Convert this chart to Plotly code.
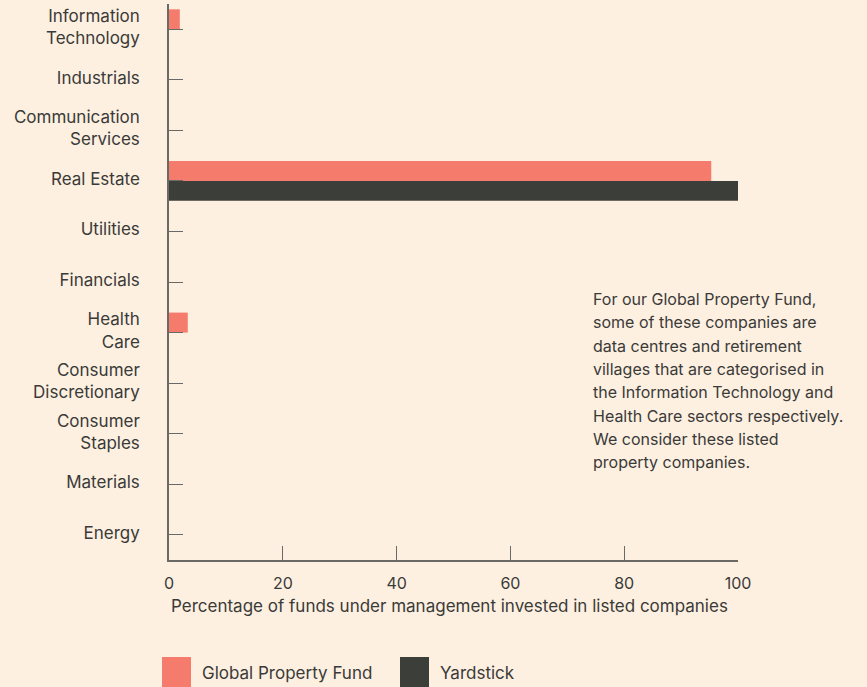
import plotly.graph_objects as go

categories = ["Information<br>Technology", "Industrials", "Communication<br>Services",
              "Real Estate", "Utilities", "Financials", "Health<br>Care",
              "Consumer<br>Discretionary", "Consumer<br>Staples", "Materials", "Energy"]
fund_values = [1.9, 0, 0, 95.3, 0, 0, 3.3, 0, 0, 0, 0]
yardstick_values = [0, 0, 0, 100, 0, 0, 0, 0, 0, 0, 0]
x_ticks = [0, 20, 40, 60, 80, 100]
note_lines = ["For our Global Property Fund,", "some of these companies are",
              "data centres and retirement", "villages that are categorised in",
              "the Information Technology and", "Health Care sectors respectively.",
              "We consider these listed", "property companies."]
legend_labels = ["Global Property Fund", "Yardstick"]

BG = "#FDF0E1"
FUND = "#F57C6D"
YARD = "#3C3E3A"
TEXT = "#3A3A38"
AXIS = "#6B6964"
FONT = "Inter, Roboto, sans-serif"

W_PLOT = 569
H_PLOT = 556

def px_x(px):
    return (px - 169) / W_PLOT

def px_y(py):
    return (560 - py) / H_PLOT

fig = go.Figure()
fig.add_trace(go.Bar(y=categories, x=fund_values, orientation="h", name=legend_labels[0],
                     marker=dict(color=FUND, line=dict(width=0))))
fig.add_trace(go.Bar(y=categories, x=yardstick_values, orientation="h", name=legend_labels[1],
                     marker=dict(color=YARD, line=dict(width=0))))

fig.update_layout(
    width=867, height=687,
    paper_bgcolor=BG, plot_bgcolor=BG,
    margin=dict(l=169, r=129, t=4, b=127),
    barmode="group", bargap=0.21, bargroupgap=0,
    showlegend=False,
    font=dict(family=FONT, color=TEXT, size=17),
)
fig.update_yaxes(autorange="reversed", showline=True, linecolor=AXIS, linewidth=1.5,
                 ticks="inside", ticklen=14, tickcolor=AXIS, tickwidth=1,
                 ticklabelstandoff=24, ticklabelshift=2, showgrid=False, zeroline=False,
                 tickfont=dict(size=17, color=TEXT))
fig.update_xaxes(range=[0, 100], tickvals=x_ticks, showline=True, linecolor=AXIS, linewidth=1.5,
                 ticks="inside", ticklen=14, tickcolor=AXIS, tickwidth=1,
                 showgrid=False, zeroline=False, ticklabelstandoff=8,
                 tickfont=dict(size=16, color=TEXT))

fig.add_annotation(xref="paper", yref="paper", x=0, y=px_y(606), xanchor="left", yanchor="middle",
                   text="Percentage of funds under management invested in listed companies",
                   showarrow=False, font=dict(size=17, color=TEXT))

for i, line in enumerate(note_lines):
    fig.add_annotation(xref="paper", yref="paper", x=px_x(591), y=px_y(299 + 23.3 * i),
                       xanchor="left", yanchor="middle", align="left", text=line,
                       showarrow=False, font=dict(size=16, color=TEXT))

# custom legend
legend_colors = [FUND, YARD]
legend_px = [162, 400]
for label, color, px in zip(legend_labels, legend_colors, legend_px):
    fig.add_shape(type="rect", xref="paper", yref="paper", x0=px_x(px), x1=px_x(px + 29),
                  y0=px_y(687), y1=px_y(657),
                  fillcolor=color, line=dict(width=0), layer="above")
    fig.add_annotation(xref="paper", yref="paper", x=px_x(px + 38), y=px_y(673),
                       xanchor="left", yanchor="middle", text=label, showarrow=False,
                       font=dict(size=17, color=TEXT))

fig.write_html("out.html", config={"displayModeBar": False},
               post_script="document.body.style.margin='0';document.body.style.background='#FDF0E1';")
